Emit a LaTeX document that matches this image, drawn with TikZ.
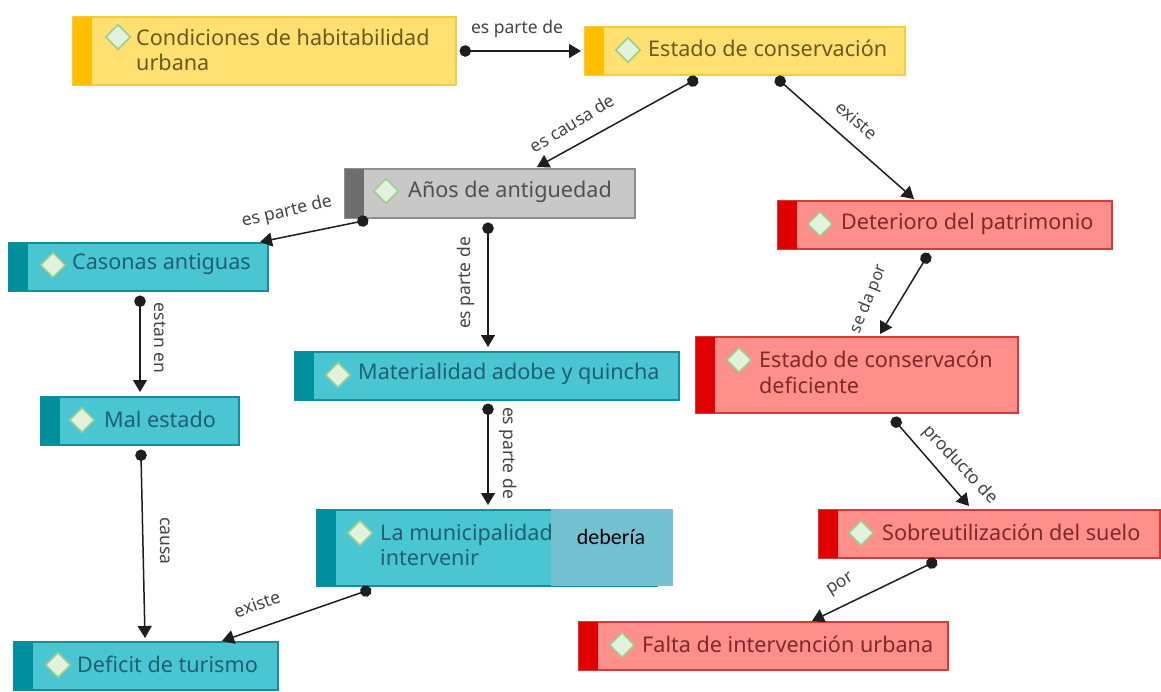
\documentclass[tikz,border=0pt]{standalone}
\usepackage{fontspec}
\setmainfont{Noto Sans}
\newfontfamily\calib{Carlito}
\usetikzlibrary{arrows.meta,shapes.geometric}
\definecolor{yfill}{HTML}{FFE070}\definecolor{ybar}{HTML}{FFBE00}\definecolor{yedge}{HTML}{F4CC3C}\definecolor{ytext}{HTML}{6A5A20}
\definecolor{tfill}{HTML}{4AC6D2}\definecolor{tbar}{HTML}{008F9C}\definecolor{tedge}{HTML}{138F9C}\definecolor{ttext}{HTML}{1F5F72}
\definecolor{gfill}{HTML}{C8C8C8}\definecolor{gbar}{HTML}{6E6E6E}\definecolor{gedge}{HTML}{8E8E8E}\definecolor{gtext}{HTML}{505050}
\definecolor{rfill}{HTML}{FF8F8A}\definecolor{rbar}{HTML}{E00000}\definecolor{redge}{HTML}{D83838}\definecolor{rtext}{HTML}{7C2A2A}
\definecolor{patchc}{HTML}{74C1D2}\definecolor{gemfill}{HTML}{E2F2DC}\definecolor{gemedge}{HTML}{9CCF8A}\definecolor{linkc}{HTML}{1E1E1E}
\tikzset{
  boxn/.style={rectangle,inner sep=0pt,outer sep=0pt,line width=1.1pt},
  gem/.style={diamond,draw=gemedge,fill=gemfill,line width=1.6pt,minimum width=25pt,minimum height=25pt,inner sep=0pt},
  lbl/.style={anchor=west,inner sep=0pt,yshift=-1.5pt,align=left,font=\fontsize{21.6}{25.5}\selectfont},
  conn/.style={draw=linkc,line width=1.5pt,shorten <=-5.5pt,{Circle[length=11.5pt]}-{Triangle[length=12pt,width=14pt]}},
  elab/.style={inner sep=0pt,text=gtext!85!black,font=\fontsize{17.5}{20}\selectfont}
}
% name, x0, y0, x1, y1, colour prefix
\newcommand{\conceptbox}[6]{%
  \node[boxn,draw=#6edge,fill=#6fill,minimum width={#4-#2},minimum height={#5-#3}] (#1) at ({(#2+#4)/2},{(#3+#5)/2}) {};
  \fill[fill=#6bar] (#2,#3) rectangle ({#2+19},#5);
}
\begin{document}
\begin{tikzpicture}[x=1pt,y=-1pt]
\useasboundingbox (0,0) rectangle (1161,691);
\fill[white] (0,0) rectangle (1161,691);

\conceptbox{A}{73}{17}{456}{85}{y}
\node[gem] (Ag) at (118,37) {};
\node[lbl,text=ytext] (At) at (136,48.5) {Condiciones de habitabilidad\\urbana};

\conceptbox{B}{585}{27}{905}{75}{y}
\node[gem] (Bg) at (628,50) {};
\node[lbl,text=ytext] (Bt) at (648,47) {Estado de conservación};

\conceptbox{C}{345}{169}{635}{218}{g}
\node[gem] (Cg) at (386,191) {};
\node[lbl,text=gtext] (Ct) at (408,190) {Años de antiguedad};

\conceptbox{D}{778}{201}{1112}{249}{r}
\node[gem] (Dg) at (820,224) {};
\node[lbl,text=rtext] (Dt) at (841,222) {Deterioro del patrimonio};

\conceptbox{E}{9}{243}{268}{291}{t}
\node[gem] (Eg) at (53,265) {};
\node[lbl,text=ttext] (Et) at (72,263) {Casonas antiguas};

\conceptbox{F}{696}{337}{1018}{413}{r}
\node[gem] (Fg) at (739,360) {};
\node[lbl,text=rtext] (Ft) at (759,371) {Estado de conservacón\\deficiente};

\conceptbox{G}{295}{352}{679}{400}{t}
\node[gem] (Gg) at (338,375) {};
\node[lbl,text=ttext] (Gt) at (358,372) {Materialidad adobe y quincha};

\conceptbox{H}{41}{397}{239}{445}{t}
\node[gem] (Hg) at (82,420) {};
\node[lbl,text=ttext] (Ht) at (104,418) {Mal estado};

\conceptbox{I}{317}{510}{657}{586}{t}
\node[gem] (Ig) at (360,533) {};
\node[lbl,text=ttext] (It) at (380,543.5) {La municipalidad\\intervenir};
\node[rectangle,fill=patchc,inner sep=0pt,minimum width=122pt,minimum height=77pt] (Ip) at (612,547.5) {};
\node[inner sep=0pt,font=\calib\fontsize{22}{26}\selectfont,text=black] (Iw) at (611,537) {debería};

\conceptbox{J}{819}{510}{1160}{558}{r}
\node[gem] (Jg) at (861,533) {};
\node[lbl,text=rtext] (Jt) at (882,531) {Sobreutilización del suelo};

\conceptbox{K}{579}{622}{948}{670}{r}
\node[gem] (Kg) at (622,645) {};
\node[lbl,text=rtext] (Kt) at (642,643) {Falta de intervención urbana};

\conceptbox{L}{14}{642}{278}{690}{t}
\node[gem] (Lg) at (58,665) {};
\node[lbl,text=ttext] (Lt) at (77,663) {Deficit de turismo};

\draw[conn] ([shift={(9,0)}]A.east) -- ([shift={(-4,0)}]B.west);
\draw[conn] ([shift={(-52,6)}]B.south) -- ([shift={(47,-2)}]C.north);
\draw[conn] ([shift={(35,6)}]B.south) -- ([shift={(-31,-2)}]D.north);
\draw[conn] ([shift={(-127,3)}]C.south) -- ([shift={(-8,-1)}]E.north east);
\draw[conn] ([shift={(-2,10)}]C.south) -- ([shift={(1,-5)}]G.north);
\draw[conn] ([shift={(-19,9)}]D.south) -- ([shift={(23,-3)}]F.north);
\draw[conn] ([shift={(1.5,10)}]E.south) -- ([shift={(0,-5)}]H.north);
\draw[conn] ([shift={(1,9)}]G.south) -- ([shift={(1,-5)}]I.north);
\draw[conn] ([shift={(39,9)}]F.south) -- ([shift={(-20.5,-4)}]J.north);
\draw[conn] ([shift={(1,10)}]H.south) -- ([shift={(-1,-4)}]L.north);
\draw[conn] ([shift={(-121,5)}]I.south) -- ([shift={(-56,-1)}]L.north east);
\draw[conn] ([shift={(-57.5,5)}]J.south) -- ([shift={(48.5,-1)}]K.north);

\node[elab] (l1) at (517,29) {es parte de};
\node[elab,rotate=31] (l2) at (572,123) {es causa de};
\node[elab,rotate=-41] (l3) at (857,120) {existe};
\node[elab,rotate=13] (l4) at (287,212) {es parte de};
\node[elab,rotate=90] (l5) at (466,283) {es parte de};
\node[elab,rotate=68,font=\fontsize{16.5}{20}\selectfont] (l6) at (869,299) {se da por};
\node[elab,rotate=-90] (l7) at (160,338) {estan en};
\node[elab,rotate=-90] (l8) at (508,453) {es parte de};
\node[elab,rotate=-47] (l9) at (960,465) {producto de};
\node[elab,rotate=-90] (l10) at (165,541) {causa};
\node[elab,rotate=20] (l11) at (257,604) {existe};
\node[elab,rotate=32] (l12) at (841,585) {por};
\end{tikzpicture}
\end{document}
